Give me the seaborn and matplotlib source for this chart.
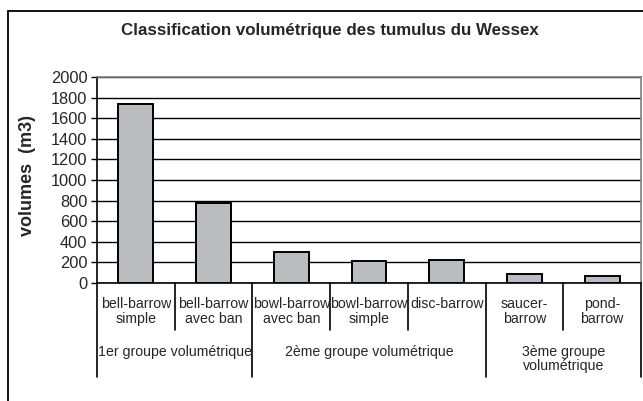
import seaborn as sns
import pandas as pd
import matplotlib.pyplot as plt
from matplotlib.patches import Rectangle
import matplotlib.transforms as mtransforms

# Values (m3)
categories = ["bell-barrow\nsimple", "bell-barrow\navec ban", "bowl-barrow\navec ban",
              "bowl-barrow\nsimple", "disc-barrow", "saucer-\nbarrow", "pond-\nbarrow"]
volumes = [1740, 778, 300, 215, 222, 92, 66]
groups = ["1er groupe volumétrique", "2ème groupe volumétrique", "3ème groupe\nvolumétrique"]
group_sizes = [2, 3, 2]
y_ticks = list(range(0, 2001, 200))

sns.set_style("white")
plt.rcParams["font.family"] = ["Liberation Sans", "DejaVu Sans"]

df = pd.DataFrame({"type": categories, "volume": volumes})

fig = plt.figure(figsize=(6.43, 4.01), dpi=100)
ax = fig.add_axes([97 / 643, 1 - 283 / 401, 544 / 643, 206 / 401])

sns.barplot(data=df, x="type", y="volume", color="#BBBCC0", saturation=1,
            edgecolor="black", linewidth=1.4, width=0.45, ax=ax, zorder=3)

ax.set_xlim(-0.5, len(categories) - 0.5)
ax.set_ylim(0, 2000)
ax.set_yticks(y_ticks)
ax.tick_params(axis="y", labelsize=11.8, length=4, width=1, color="black",
               left=True, pad=3)
ax.tick_params(axis="x", bottom=False, labelbottom=False)
ax.yaxis.grid(True, color="black", lw=1, zorder=0)
ax.set_axisbelow(True)
ax.set_xlabel("")
ax.set_ylabel("")

for side in ["left", "bottom"]:
    ax.spines[side].set_color("black")
    ax.spines[side].set_linewidth(1.2)
for side in ["top", "right"]:
    ax.spines[side].set_color("#7f7f7f")
    ax.spines[side].set_linewidth(1.2)

# category / group separators below the axis
trans = mtransforms.blended_transform_factory(ax.transData, ax.transAxes)
group_edges = [-0.5]
for n in group_sizes:
    group_edges.append(group_edges[-1] + n)
for i in range(len(categories) + 1):
    xb = i - 0.5
    depth = -0.455 if xb in group_edges else -0.228
    ax.plot([xb, xb], [0, depth], color="black", lw=1.2, transform=trans,
            clip_on=False)

for i, lab in enumerate(categories):
    ax.text(i, -0.07, lab, transform=trans, ha="center", va="top",
            fontsize=10.2, linespacing=1.05)

for g, lab in enumerate(groups):
    xc = (group_edges[g] + group_edges[g + 1]) / 2
    ax.text(xc, -0.3, lab, transform=trans, ha="center", va="top",
            fontsize=10.2, linespacing=1.05)

fig.text(330 / 643, 1 - 30 / 401, "Classification volumétrique des tumulus du Wessex",
         ha="center", va="center", fontsize=12.2, fontweight="bold")
fig.text(28 / 643, 1 - 176 / 401, "volumes  (m3)", rotation=90, ha="center",
         va="center", fontsize=13, fontweight="bold")

# outer chart frame
fig.add_artist(Rectangle((8 / 643, -0.1), 2, 1 - 11 / 401 + 0.1, fill=False,
                         edgecolor="black", lw=1.3, transform=fig.transFigure))

fig.savefig("out.png", dpi=100)
